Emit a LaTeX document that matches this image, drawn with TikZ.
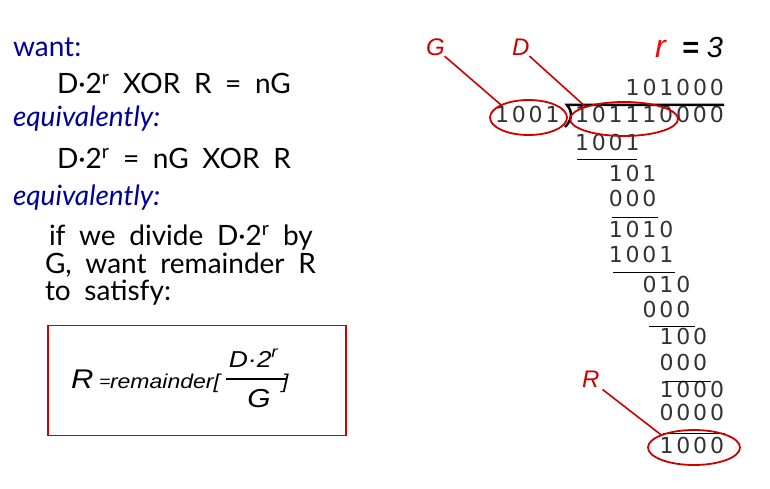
\documentclass[tikz,border=0pt]{standalone}
\usepackage{fontspec}
\usepackage{xcolor}
\usetikzlibrary{shapes.geometric}
\setmainfont[WordSpace=1.9]{Lato}
\newfontfamily\arialfont{Liberation Sans}
\newfontfamily\arialwide[FakeStretch=1.15]{Liberation Sans}
\newfontfamily\bitfont[LetterSpace=13]{DejaVu Sans}
\definecolor{hdblue}{RGB}{0,0,153}
\definecolor{markred}{RGB}{204,0,0}
\definecolor{brightred}{RGB}{255,0,0}

\begin{document}
\begin{tikzpicture}[x=1pt, y=-1pt,
    every node/.style={inner sep=0pt, outer sep=0pt},
    body/.style={anchor=base west, font=\fontsize{28}{28}\selectfont},
    head/.style={anchor=base west, text=hdblue, font=\fontsize{28}{28}\selectfont},
    headit/.style={head, font=\fontsize{28}{28}\selectfont\itshape},
    digits/.style={anchor=base west, text=black!80, font=\bitfont\fontsize{22}{22}\selectfont},
    tag/.style={anchor=base west, text=markred, font=\arialfont\itshape\fontsize{24}{24}\selectfont},
    fbig/.style={anchor=base west, font=\arialwide\itshape\fontsize{27}{27}\selectfont},
    fmid/.style={anchor=base, font=\arialwide\itshape\fontsize{23}{23}\selectfont},
    fsmall/.style={anchor=base west, font=\arialwide\itshape\fontsize{20}{20}\selectfont},
    ring/.style={draw=markred, line width=1.8pt, ellipse},
    lead/.style={draw=markred, line width=1.6pt}]
\useasboundingbox (0,0) rectangle (770,489);

\node[head] (want) at (13,57) {want:};
\node[body] (eqa) at (57,94) {D·2\textsuperscript{r} XOR R = nG};
\node[headit] (alta) at (13,127) {equivalently:};
\node[body] (eqb) at (57,168) {D·2\textsuperscript{r} = nG XOR R};
\node[headit] (altb) at (13,205) {equivalently:};
\node[body] (linea) at (49,245) {if we divide D·2\textsuperscript{r} by};
\node[body] (lineb) at (45,273) {G, want remainder R};
\node[body] (linec) at (45,300) {to satisfy:};

% boxed formula
\node[draw=markred, line width=1.8pt, minimum width=298pt, minimum height=110pt] (fbox) at (196.6,380.4) {};
\node[fbig] (fR) at (71,388) {R};
\node[fsmall, font=\arialwide\itshape\fontsize{17}{17}\selectfont] (feq) at (99,387) {=};
\node[fsmall] (frem) at (110,388) {remainder[};
\node[fmid] (fnum) at (253.5,367) {D·2\textsuperscript{r}};
\node[fmid, font=\arialwide\itshape\fontsize{26}{26}\selectfont] (fden) at (259,407) {G};
\node[fsmall] (fclose) at (282,388) {]};
\draw[line width=1.8pt] (226,379) -- (287,379);

% long division
\node[tag, text=brightred, font=\arialfont\itshape\fontsize{32}{32}\selectfont] (rexp) at (655,58) {r};
\node[tag, anchor=base east, text=black, font=\arialfont\itshape\fontsize{29}{29}\selectfont] (rval) at (723,58) {{\bfseries =} 3};
\node[digits] (quot) at (625.7,96) {101000};
\node[digits] (divisor) at (495,123) {1001};
\node[digits] (dividend) at (575,123) {101110000};
\draw[line width=2.5pt] (724,105) -- (567,105) .. controls (573,112) and (572,120) .. (565,127);
\node[digits] (s1) at (575,150) {1001};
\node[digits] (s2) at (608.8,182) {101};
\node[digits] (s3) at (608.8,206) {000};
\node[digits] (s4) at (608.8,237) {1010};
\node[digits] (s5) at (608.8,262) {1001};
\node[digits] (s6) at (642.6,292) {010};
\node[digits] (s7) at (642.6,317) {000};
\node[digits] (s8) at (659.5,344) {100};
\node[digits] (s9) at (659.5,370) {000};
\node[digits] (s10) at (659.5,397) {1000};
\node[digits] (s11) at (659.5,420) {0000};
\node[digits] (rest) at (659.5,453) {1000};
\draw[line width=1pt] (577,160) -- (637,160);
\draw[line width=1pt] (612,217) -- (658,217);
\draw[line width=1pt] (613,272) -- (675,272);
\draw[line width=1pt] (649,326) -- (695,326);
\draw[line width=1pt] (666,381) -- (711,381);
\draw[line width=1pt] (663,433) -- (725,433);

% callouts
\node[ring, minimum width=77pt, minimum height=35pt] (gring) at (528.5,117.5) {};
\node[ring, minimum width=108pt, minimum height=34pt] (dring) at (624,119) {};
\node[ring, minimum width=92pt, minimum height=35pt] (rring) at (694,447.5) {};
\node[tag] (glab) at (426,56) {G};
\node[tag] (dlab) at (512,56) {D};
\node[tag] (rlab) at (582,387) {R};
\draw[lead] (glab.south east) -- (gring.north west);
\draw[lead] (dlab.south east) -- (dring.north west);
\draw[lead, shorten <=4pt] (rlab.south east) -- (rring.north west);

\end{tikzpicture}
\end{document}
